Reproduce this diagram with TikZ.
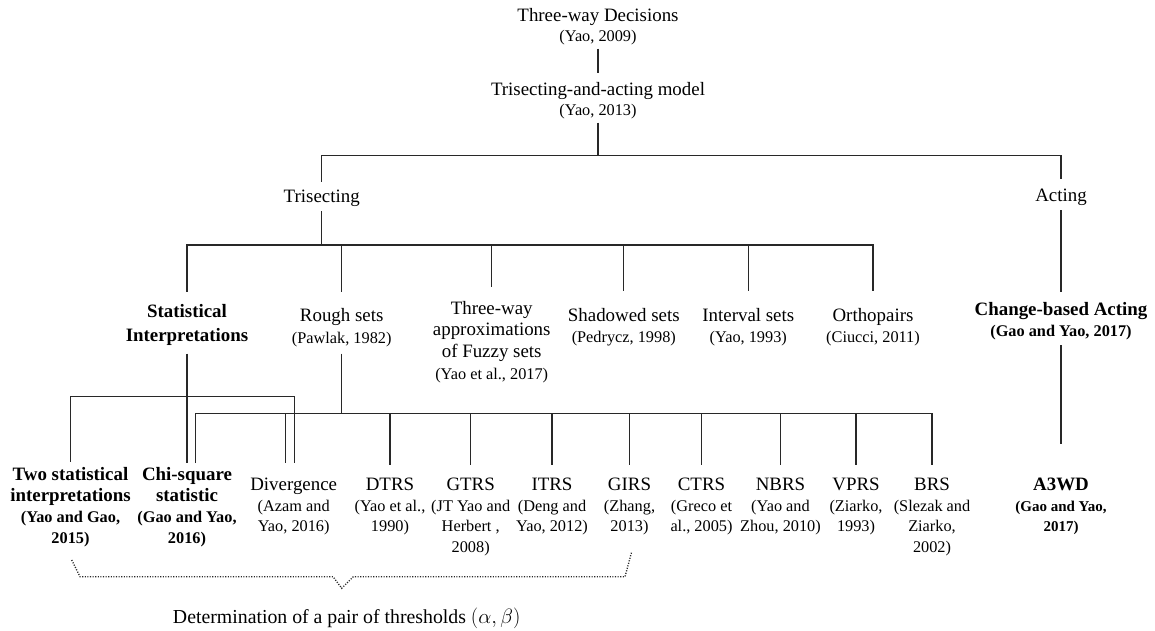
\documentclass[tikz,border=0pt]{standalone}
\usepackage{fontspec}
\setmainfont{Liberation Serif}
\definecolor{ln}{RGB}{40,40,40}
% first-line top strut and last-line depth strut, so node borders are predictable
\newcommand\tp{\rule{0pt}{15pt}}
\newcommand\bp{\rule[-4.5pt]{0pt}{4.5pt}}
% citation sizes inside a label
\newcommand\cit{\fontsize{16.3}{20}\selectfont}
\newcommand\citA{\fontsize{15}{20}\selectfont}
\tikzset{
  lbl/.style={align=center, inner sep=0pt, anchor=north,
              font=\fontsize{18.9}{#1}\selectfont},
  lbl/.default=20.5,
  blbl/.style={lbl=#1, font=\fontsize{18.9}{#1}\selectfont\bfseries},
  blbl/.default=21,
  con/.style={draw=ln, line width=1.1pt, line join=miter},
  brace/.style={draw=ln, line width=1.35pt, dash pattern=on 1.1pt off 1.5pt}
}
\begin{document}
\begin{tikzpicture}[x=1pt, y=-1pt]
\useasboundingbox (0,0) rectangle (1155,630);

% ---- bus levels
\coordinate (b1) at (0,155.7);
\coordinate (b2) at (0,245);
\coordinate (b3) at (0,396.7);
\coordinate (b4) at (0,413.3);

% ---- top of the tree
\node[lbl=20] (twd) at (598,6.2) {\tp Three-way Decisions\\{\cit (Yao, 2009)}\bp};
\node[lbl=19.5] (tam) at (598,80.5) {\tp Trisecting-and-acting model\\{\cit (Yao, 2013)}\bp};
\node[lbl] (tri) at (321.7,187) {\tp Trisecting\bp};
\node[lbl] (act) at (1061,186.2) {\tp Acting\bp};

% ---- trisecting models
\node[blbl=24] (stat) at (187,302) {\tp Statistical\\Interpretations\bp};
\node[lbl=21.3] (rough) at (341.7,306.5) {\tp Rough sets\\{\cit (Pawlak, 1982)}\bp};
\node[lbl=21.7] (twa) at (491.7,298.8) {\tp Three-way\\approximations\\of Fuzzy sets\\{\cit (Yao et al., 2017)}\bp};
\node[lbl=20.7] (shad) at (623.8,306.5) {\tp Shadowed sets\\{\cit (Pedrycz, 1998)}\bp};
\node[lbl=20.7] (intv) at (748.3,306.5) {\tp Interval sets\\{\cit (Yao, 1993)}\bp};
\node[lbl=20.7] (orth) at (873,306.5) {\tp Orthopairs\\{\cit (Ciucci, 2011)}\bp};
\node[blbl=20.7] (cba) at (1061,300.5) {\tp Change-based Acting\\{\cit (Gao and Yao, 2017)}\bp};

% ---- bottom row
\node[blbl=21] (two) at (70.5,465.5) {\tp Two statistical\\interpretations\\{\cit (Yao and Gao,}\\{\cit 2015)}\bp};
\node[blbl=21] (chi) at (187,465.5) {\tp Chi-square\\statistic\\{\cit (Gao and Yao,}\\{\cit 2016)}\bp};
\node[lbl] (div) at (293.7,475.5) {\tp Divergence\\{\cit (Azam and}\\{\cit Yao, 2016)}\bp};
\node[lbl] (dtrs) at (390,475.5) {\tp DTRS\\{\cit (Yao et al.,}\\{\cit 1990)}\bp};
\node[lbl] (gtrs) at (470.7,475.5) {\tp GTRS\\{\cit (JT Yao and}\\{\cit Herbert ,}\\{\cit 2008)}\bp};
\node[lbl] (itrs) at (552,475.5) {\tp ITRS\\{\cit (Deng and}\\{\cit Yao, 2012)}\bp};
\node[lbl] (girs) at (629.5,475.5) {\tp GIRS\\{\cit (Zhang,}\\{\cit 2013)}\bp};
\node[lbl] (ctrs) at (701.5,475.5) {\tp CTRS\\{\cit (Greco et}\\{\cit al., 2005)}\bp};
\node[lbl] (nbrs) at (780.5,475.5) {\tp NBRS\\{\cit (Yao and}\\{\cit Zhou, 2010)}\bp};
\node[lbl] (vprs) at (856,475.5) {\tp VPRS\\{\cit (Ziarko,}\\{\cit 1993)}\bp};
\node[lbl] (brs) at (932,475.5) {\tp BRS\\{\cit (Slezak and}\\{\cit Ziarko,}\\{\cit 2002)}\bp};
\node[blbl=20.5] (a3wd) at (1061,475.5) {\tp A3WD\\{\citA (Gao and Yao,}\\{\citA 2017)}\bp};

% second attachment points of the two shared leaves
\coordinate (chiR) at ([xshift=8.7pt]chi.north);
\coordinate (divS) at ([xshift=0.6pt]div.north);
\coordinate (divR) at ([xshift=-8.4pt]div.north);

% ---- connectors: top
\draw[con, shorten <=2.6pt, shorten >=7.2pt] (twd.south) -- (tam.north);
\draw[con, shorten <=2.7pt] (tam.south) -- (tam.south |- b1);
\draw[con, shorten <=5.3pt, shorten >=7pt] (tri.north) -- (tri.north |- b1) -- (act.north |- b1) -- (act.north);

% trisecting branch
\draw[con, shorten <=4.2pt] (tri.south) -- (tri.south |- b2);
\draw[con, shorten <=10.3pt, shorten >=15.8pt] (stat.north) -- (stat.north |- b2) -- (orth.north |- b2) -- (orth.north);
\draw[con, shorten >=14.8pt] (rough.north |- b2) -- (rough.north);
\draw[con, shorten >=11.8pt] (twa.north |- b2) -- (twa.north);
\draw[con, shorten >=15.8pt] (shad.north |- b2) -- (shad.north);
\draw[con, shorten >=15.8pt] (intv.north |- b2) -- (intv.north);

% acting branch
\draw[con, shorten <=4.3pt, shorten >=8.8pt] (act.south) -- (cba.north);
\draw[con, shorten <=4.3pt, shorten >=32pt] (cba.south) -- (a3wd.north);

% statistical interpretations
\draw[con, shorten <=7.8pt, shorten >=2.5pt] (stat.south) -- (chi.north);
\draw[con, shorten <=3.8pt, shorten >=12.5pt] (two.north) -- (two.north |- b3) -- (divS |- b3) -- (divS);

% rough sets
\draw[con, shorten <=6pt] (rough.south) -- (rough.south |- b4);
\draw[con, shorten <=2.5pt, shorten >=10.5pt] (chiR) -- (chiR |- b4) -- (brs.north |- b4) -- (brs.north);
\draw[con, shorten >=12.5pt] (divR |- b4) -- (divR);
\foreach \n in {dtrs,gtrs,itrs,girs,ctrs,nbrs,vprs}
  \draw[con, shorten >=10.5pt] (\n.north |- b4) -- (\n.north);

% ---- threshold brace
\coordinate (brL) at (71.7,560);
\coordinate (brR) at (631.7,551.7);
\draw[brace] (brL) -- (80,576.7) -- (333,576.7) -- (341.7,588.3) -- (353.3,576.7) -- (625,576.7) -- (brR);
\node[anchor=base, inner sep=0pt, font=\fontsize{19.8}{22}\selectfont] (thr) at (346.7,623.2)
  {Determination of a pair of thresholds $(\alpha,\beta)$};
\end{tikzpicture}
\end{document}
